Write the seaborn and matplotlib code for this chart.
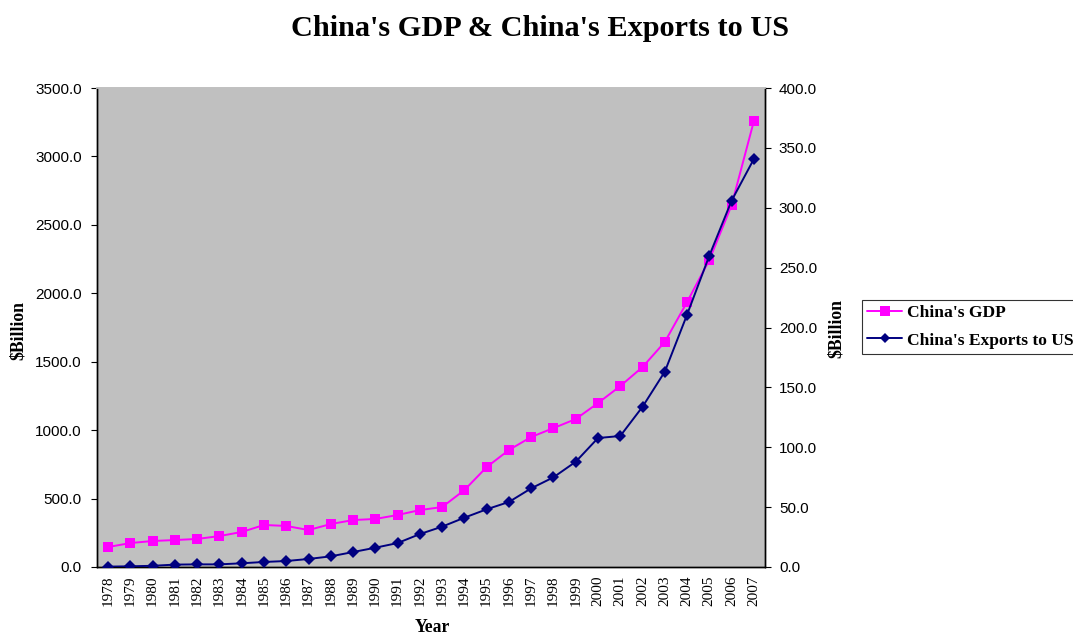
import matplotlib
matplotlib.use("Agg")
import matplotlib.pyplot as plt
from matplotlib.lines import Line2D
import seaborn as sns
import pandas as pd

years = [str(y) for y in range(1978, 2008)]
gdp = [146, 175, 190, 197, 205, 226, 256, 307, 300, 270,
       314, 343, 351, 380, 416, 438, 562, 730, 855, 950,
       1015, 1081, 1198, 1322, 1461, 1644, 1936, 2243, 2644, 3258]
exports_us = [0.3, 0.6, 1.0, 2.0, 2.2, 2.2, 3.1, 4.2, 5.0, 6.7,
              8.9, 12.5, 16.1, 20.0, 27.5, 33.7, 41.2, 48.2, 54.3, 65.7,
              74.9, 87.9, 107.7, 109.4, 133.8, 163.1, 210.7, 260.0, 305.9, 340.7]

left_ticks = [0, 500, 1000, 1500, 2000, 2500, 3000, 3500]
right_ticks = [0, 50, 100, 150, 200, 250, 300, 350, 400]

sns.set_theme(style="white")
plt.rcParams["font.family"] = ["Liberation Sans", "DejaVu Sans"]
for key in ("text.color", "axes.labelcolor", "xtick.color", "ytick.color"):
    plt.rcParams[key] = "black"

df = pd.DataFrame({"idx": range(len(years)), "year": years,
                   "gdp": gdp, "exports": exports_us})

fig = plt.figure(figsize=(10.73, 6.34), dpi=100)
ax = fig.add_axes([97 / 1073, 67 / 634, 668 / 1073, 479 / 634])
ax.set_facecolor("#C0C0C0")
ax2 = ax.twinx()

pink = "#FF00FF"
navy = "#000080"

sns.lineplot(data=df, x="idx", y="gdp", ax=ax, color=pink, lw=1.4,
             marker="s", markersize=7.2, markeredgewidth=0, zorder=3)
sns.lineplot(data=df, x="idx", y="exports", ax=ax2, color=navy, lw=1.4,
             marker="D", markersize=5.8, markeredgewidth=0, zorder=3)

ax.set_xlim(-0.5, len(years) - 0.5)
ax.set_ylim(0, 3500)
ax2.set_ylim(0, 400)

ax.set_yticks(left_ticks)
ax.set_yticklabels(["0.0"] + [f"{v:.1f}" for v in left_ticks[1:]], fontsize=11)
ax2.set_yticks(right_ticks)
ax2.set_yticklabels([f"{v:.1f}" for v in right_ticks], fontsize=11)

ax.set_xticks(range(len(years)))
ax.set_xticklabels(years, rotation=90, fontsize=11, family="Liberation Serif")
ax.set_xticks([i + 0.5 for i in range(len(years) - 1)], minor=True)
ax.tick_params(axis="x", which="major", length=0, pad=6)
ax.tick_params(axis="x", which="minor", direction="in", length=4, width=0.8, color="black")
ax.tick_params(axis="y", which="major", direction="out", length=4, width=0.8, color="black", pad=7)
ax2.tick_params(axis="y", which="major", direction="out", length=4, width=0.8, color="black", pad=6)

for a in (ax, ax2):
    a.set_xlabel("")
    a.set_ylabel("")
    a.grid(False)
    for side in ("left", "bottom", "right"):
        a.spines[side].set_color("black")
        a.spines[side].set_linewidth(1.0)
    a.spines["top"].set_color("#C0C0C0")

fig.text(0.503, 1 - 28 / 634, "China's GDP & China's Exports to US",
         ha="center", va="center", fontsize=21.8, fontweight="bold",
         family="Liberation Serif")
fig.text(18 / 1073, 1 - 330 / 634, "$Billion", rotation=90, ha="center",
         va="center", fontsize=12.7, fontweight="bold", family="Liberation Serif")
fig.text(836 / 1073, 1 - 328 / 634, "$Billion", rotation=90, ha="center",
         va="center", fontsize=12.7, fontweight="bold", family="Liberation Serif")
fig.text(432 / 1073, 1 - 627 / 634, "Year", ha="center", va="center",
         fontsize=12.7, fontweight="bold", family="Liberation Serif")

handles = [
    Line2D([], [], color=pink, lw=1.4, marker="s", markersize=7, markeredgewidth=0),
    Line2D([], [], color=navy, lw=1.4, marker="D", markersize=5.5, markeredgewidth=0),
]
leg = fig.legend(handles, ["China's GDP", "China's Exports to US"],
                 loc="upper left", bbox_to_anchor=(862 / 1073, 1 - 300 / 634),
                 frameon=True, fancybox=False, borderpad=0.3, labelspacing=0.62,
                 handlelength=2.0, handletextpad=0.25, borderaxespad=0,
                 prop={"family": "Liberation Serif", "weight": "bold", "size": 12.6})
leg.get_frame().set_edgecolor("black")
leg.get_frame().set_linewidth(0.8)

fig.savefig("out.png", dpi=100, facecolor="white")
